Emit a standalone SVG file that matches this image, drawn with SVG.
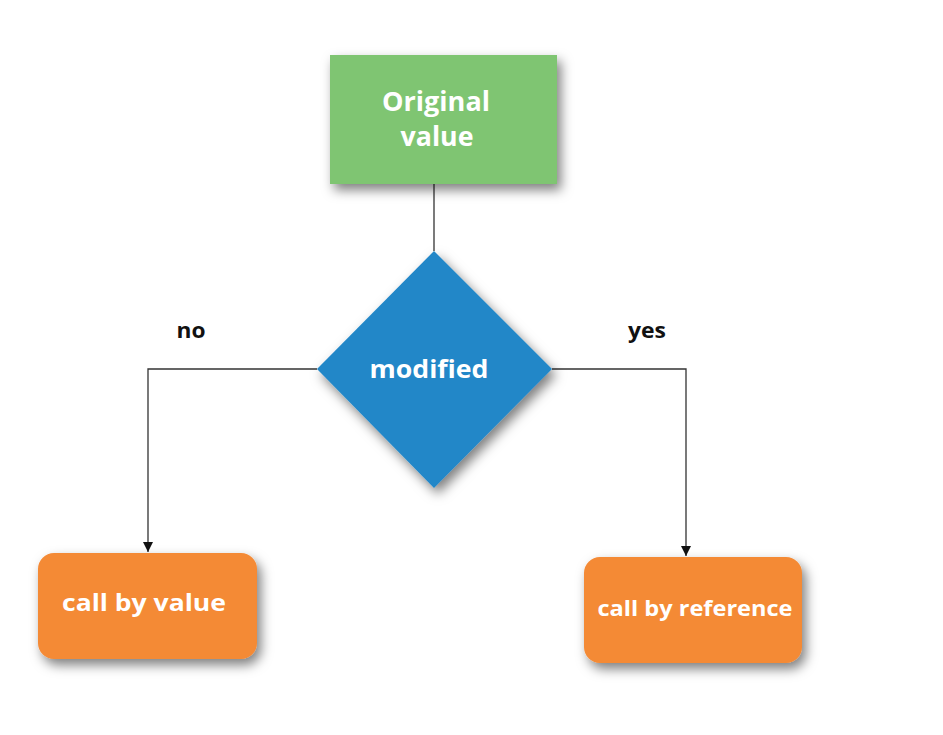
<svg xmlns="http://www.w3.org/2000/svg" width="943" height="735" viewBox="0 0 943 735">
<style>
.lbl{font-family:"Open Sans","Liberation Sans",sans-serif;font-weight:bold;fill:#fff;text-anchor:middle}
.edge{font-family:"Open Sans","Liberation Sans",sans-serif;font-weight:bold;fill:#111;font-size:21px;text-anchor:middle}
.ln{fill:none;stroke:#333;stroke-width:1.3}
</style>
<defs>
<filter id="sh" x="-20%" y="-20%" width="150%" height="150%">
<feDropShadow dx="4" dy="6" stdDeviation="6" flood-color="#000" flood-opacity="0.5"/>
</filter>
<marker id="ar" viewBox="0 0 10 10" refX="10" refY="5" markerWidth="10" markerHeight="10" markerUnits="userSpaceOnUse" orient="auto">
<path d="M0,0 L10,5 L0,10 z" fill="#111"/>
</marker>
</defs>
<rect width="943" height="735" fill="#fff"/>
<g id="connectors">
<line class="ln" x1="434" y1="184" x2="434" y2="251"/>
<polyline class="ln" points="317,369 148,369 148,552" marker-end="url(#ar)"/>
<polyline class="ln" points="552,369 686,369 686,556" marker-end="url(#ar)"/>
<text class="edge" x="191" y="338" textLength="29" lengthAdjust="spacingAndGlyphs">no</text>
<text class="edge" x="647" y="338" textLength="38" lengthAdjust="spacingAndGlyphs">yes</text>
</g>
<g id="original">
<rect x="330" y="55" width="227" height="129" fill="#7fc572" filter="url(#sh)"/>
<text class="lbl" font-size="26" x="436" y="111" textLength="108" lengthAdjust="spacingAndGlyphs">Original</text>
<text class="lbl" font-size="26" x="437" y="146" textLength="73" lengthAdjust="spacingAndGlyphs">value</text>
</g>
<g id="modified">
<polygon points="434,251 552,369 434,488 317,369" fill="#2387c8" filter="url(#sh)"/>
<text class="lbl" font-size="25" x="429" y="378" textLength="119" lengthAdjust="spacingAndGlyphs">modified</text>
</g>
<g id="byvalue">
<rect x="38" y="553" width="219" height="106" rx="16" fill="#f48a35" filter="url(#sh)"/>
<text class="lbl" font-size="24" x="144" y="611" textLength="164" lengthAdjust="spacingAndGlyphs">call by value</text>
</g>
<g id="byref">
<rect x="584" y="557" width="218" height="106" rx="16" fill="#f48a35" filter="url(#sh)"/>
<text class="lbl" font-size="22" x="695" y="616" textLength="195" lengthAdjust="spacingAndGlyphs">call by reference</text>
</g>
</svg>
